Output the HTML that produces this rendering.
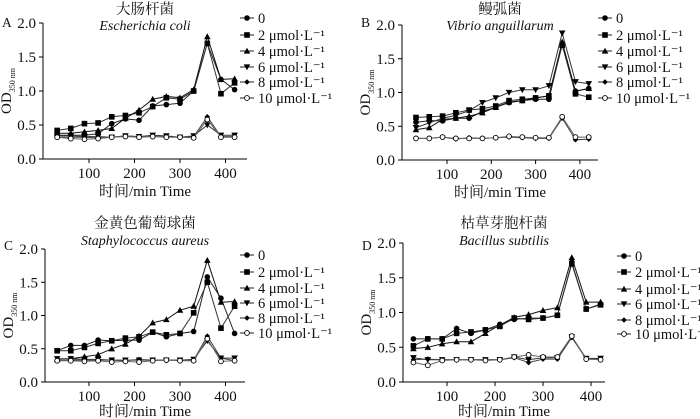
<!DOCTYPE html>
<html><head><meta charset="utf-8"><style>
html,body{margin:0;padding:0;background:#fff;}
svg{display:block;font-family:"Liberation Serif","Noto Serif CJK SC","Noto Sans CJK SC",serif;}
</style></head><body>
<svg id="c" width="700" height="419" viewBox="0 0 700 419" xmlns="http://www.w3.org/2000/svg"></svg>
<script>
const times = [30,60,90,120,150,180,210,240,270,300,330,360,390,420];
const yTicks = [0,0.5,1.0,1.5,2.0];
const yTickLabels = ["0.0","0.5","1.0","1.5","2.0"];
const xTicks = [100,200,300,400];
const seriesNames = ["0","2 μmol·L⁻¹","4 μmol·L⁻¹","6 μmol·L⁻¹","8 μmol·L⁻¹","10 μmol·L⁻¹"];

const A_0 = [0.35,0.35,0.35,0.37,0.52,0.59,0.57,0.78,0.80,0.82,1.00,1.70,1.17,1.02];
const A_2 = [0.42,0.45,0.52,0.53,0.62,0.64,0.68,0.77,0.90,0.88,1.00,1.70,0.96,1.12];
const A_4 = [0.38,0.38,0.40,0.42,0.45,0.60,0.72,0.88,0.92,0.90,1.02,1.80,1.17,1.18];
const A_6 = [0.34,0.34,0.33,0.33,0.32,0.34,0.33,0.35,0.34,0.32,0.34,0.50,0.35,0.35];
const A_8 = [0.32,0.32,0.32,0.31,0.32,0.34,0.33,0.33,0.33,0.32,0.33,0.62,0.33,0.33];
const A_10 = [0.32,0.30,0.29,0.30,0.32,0.33,0.32,0.33,0.32,0.32,0.31,0.58,0.32,0.32];

const B_0 = [0.56,0.58,0.58,0.62,0.62,0.72,0.78,0.85,0.88,0.90,0.90,1.72,1.02,1.06];
const B_2 = [0.63,0.64,0.65,0.70,0.74,0.76,0.80,0.88,0.90,0.92,0.95,1.70,0.98,0.93];
const B_4 = [0.45,0.48,0.60,0.62,0.65,0.70,0.78,0.86,0.88,0.92,0.95,1.75,1.02,1.06];
const B_6 = [0.48,0.55,0.62,0.66,0.73,0.85,0.92,1.00,1.04,1.04,1.10,1.88,1.16,1.13];
const B_8 = [0.32,0.32,0.34,0.31,0.33,0.32,0.33,0.34,0.33,0.32,0.32,0.62,0.30,0.31];
const B_10 = [0.32,0.32,0.34,0.32,0.32,0.32,0.33,0.35,0.34,0.33,0.33,0.64,0.34,0.34];

const C_0 = [0.47,0.55,0.55,0.63,0.62,0.63,0.63,0.75,0.68,0.73,0.76,1.58,1.26,0.73];
const C_2 = [0.47,0.47,0.52,0.58,0.62,0.66,0.68,0.75,0.71,0.73,1.04,1.50,0.81,1.14];
const C_4 = [0.34,0.35,0.38,0.41,0.50,0.57,0.69,0.89,0.94,1.08,1.14,1.83,1.20,1.21];
const C_6 = [0.35,0.35,0.34,0.34,0.33,0.33,0.33,0.33,0.33,0.33,0.34,0.62,0.36,0.36];
const C_8 = [0.32,0.33,0.33,0.33,0.33,0.32,0.34,0.33,0.33,0.33,0.33,0.69,0.36,0.32];
const C_10 = [0.32,0.32,0.31,0.32,0.30,0.31,0.30,0.32,0.33,0.32,0.32,0.65,0.31,0.32];

const D_0 = [0.62,0.62,0.62,0.77,0.70,0.75,0.83,0.90,0.92,0.92,0.96,1.72,1.05,1.12];
const D_2 = [0.52,0.62,0.62,0.70,0.72,0.75,0.80,0.92,0.90,0.92,0.96,1.70,1.05,1.11];
const D_4 = [0.48,0.50,0.55,0.58,0.58,0.70,0.82,0.93,0.97,1.03,1.07,1.79,1.15,1.15];
const D_6 = [0.35,0.32,0.32,0.32,0.32,0.32,0.32,0.36,0.32,0.35,0.35,0.65,0.34,0.34];
const D_8 = [0.32,0.33,0.32,0.32,0.32,0.32,0.32,0.35,0.28,0.33,0.33,0.64,0.33,0.33];
const D_10 = [0.28,0.24,0.31,0.32,0.32,0.31,0.32,0.36,0.39,0.36,0.36,0.66,0.33,0.32];

const svg = document.getElementById('c');
const NS = 'http://www.w3.org/2000/svg';
function mk(tag, attrs, parent, text){
  const e = document.createElementNS(NS, tag);
  for (const k in attrs) e.setAttribute(k, attrs[k]);
  if (text !== undefined) e.textContent = text;
  (parent||svg).appendChild(e);
  return e;
}
const markers = ['circle','square','tri','tridown','diamond','open'];
const lineColors = ['#222','#333','#111','#333','#444','#666'];
function marker(g, type, x, y){
  let e;
  if (type==='circle') e = mk('circle',{cx:x,cy:y,r:2.8,fill:'#000'},g);
  else if (type==='open') e = mk('circle',{cx:x,cy:y,r:2.4,fill:'#fff',stroke:'#000','stroke-width':0.9},g);
  else if (type==='square') e = mk('rect',{x:x-2.8,y:y-2.8,width:5.6,height:5.6,fill:'#000'},g);
  else if (type==='tri') e = mk('polygon',{points:`${x},${y-3.3} ${x-3.3},${y+2.6} ${x+3.3},${y+2.6}`,fill:'#000'},g);
  else if (type==='tridown') e = mk('polygon',{points:`${x},${y+3.3} ${x-3.3},${y-2.6} ${x+3.3},${y-2.6}`,fill:'#000'},g);
  else e = mk('polygon',{points:`${x},${y-2.8} ${x+2.8},${y} ${x},${y+2.8} ${x-2.8},${y}`,fill:'#000'},g);
  
  
}

const panels = [
  {id:'a',letter:'A',cn:'大肠杆菌',la:'Escherichia coli',ax:43,x0:43.5,xs:0.455,xEnd:247,yTop:23,yBot:159,titleY:14,laY:30,letterY:27,xlabY:196,legX:240,legY:[18,35,51,67,82,98],series:[A_0,A_2,A_4,A_6,A_8,A_10]},
  {id:'b',letter:'B',cn:'鳗弧菌',la:'Vibrio anguillarum',ax:402,x0:402.7,xs:0.443,xEnd:598,yTop:25,yBot:160,titleY:14,laY:30,letterY:27,xlabY:197,legX:598,legY:[18,35,51,67,82,98],series:[B_0,B_2,B_4,B_6,B_8,B_10]},
  {id:'c',letter:'C',cn:'金黄色葡萄球菌',la:'Staphylococcus aureus',ax:45,x0:43.5,xs:0.455,xEnd:245,yTop:249,yBot:382,titleY:228,laY:245,letterY:250,xlabY:416,legX:240,legY:[255,272,288,303,318,333],series:[C_0,C_2,C_4,C_6,C_8,C_10]},
  {id:'d',letter:'D',cn:'枯草芽胞杆菌',la:'Bacillus subtilis',ax:403,x0:399,xs:0.48,xEnd:605,yTop:243,yBot:382,titleY:228,laY:245,letterY:250,xlabY:416,legX:617,legY:[256,272,289,304,320,334],series:[D_0,D_2,D_4,D_6,D_8,D_10]}
];

panels.forEach(p=>{
  const g = mk('g',{});
  
  
  const X = t => p.x0 + t*p.xs;
  const Y = v => p.yBot - v*(p.yBot-p.yTop)/2;
  const cx = (p.ax + p.xEnd)/2;
  const t1 = mk('text',{x:cx,y:p.titleY,'text-anchor':'middle','font-size':14.5,fill:'#111'},g,p.cn);
   
  const t2 = mk('text',{x:cx,y:p.laY,'text-anchor':'middle','font-size':14,'font-style':'italic',fill:'#111'},g,p.la);
   
  const lt = mk('text',{x:p.ax-41,y:p.letterY,'font-size':13.5,fill:'#111'},g,p.letter);
   
  const ya = mk('line',{x1:p.ax,y1:p.yTop,x2:p.ax,y2:p.yBot,stroke:'#000','stroke-width':1},g);
   
  const xa = mk('line',{x1:p.ax,y1:p.yBot,x2:p.xEnd,y2:p.yBot,stroke:'#000','stroke-width':1},g);
   
  yTicks.forEach((v,i)=>{
    mk('line',{x1:p.ax-4,y1:Y(v),x2:p.ax,y2:Y(v),stroke:'#000'},g);
    const t = mk('text',{x:p.ax-7,y:Y(v)+5,'text-anchor':'end','font-size':15,fill:'#111'},g,yTickLabels[i]);
     
  });
  xTicks.forEach(v=>{
    mk('line',{x1:X(v),y1:p.yBot,x2:X(v),y2:p.yBot+4,stroke:'#000'},g);
    const t = mk('text',{x:X(v),y:p.yBot+19,'text-anchor':'middle','font-size':15,fill:'#111'},g,String(v));
     
  });
  const xl = mk('text',{x:cx,y:p.xlabY,'text-anchor':'middle','font-size':15,fill:'#111'},g,'时间/min Time');
   
  const ym = (p.yTop+p.yBot)/2;
  const yl = mk('text',{x:0,y:0,'text-anchor':'middle','font-size':15,fill:'#111',transform:`translate(${p.ax-32},${ym}) rotate(-90)`},g);
   
  mk('tspan',{},yl,'OD');
  mk('tspan',{'font-size':8,dy:4},yl,'350 nm');
  p.series.forEach((vals,si)=>{
    const sg = mk('g',{},g);
    
    
    const pts = vals.map((v,i)=>X(times[i]).toFixed(1)+','+Y(v).toFixed(1)).join(' ');
    const pl = mk('polyline',{points:pts,fill:'none',stroke:lineColors[si],'stroke-width':1},sg);
     
    vals.forEach((v,i)=>marker(sg,markers[si],X(times[i]),Y(v)));
  });
  const lg = mk('g',{},g);
   
  seriesNames.forEach((n,si)=>{
    const y = p.legY[si];
    const eg = mk('g',{},lg);
     
    mk('line',{x1:p.legX,y1:y,x2:p.legX+14,y2:y,stroke:'#222'},eg);
    marker(eg,markers[si],p.legX+7,y);
    mk('text',{x:p.legX+18,y:y+5,'font-size':14.5,fill:'#111'},eg,n);
  });
});
</script>
</body></html>
